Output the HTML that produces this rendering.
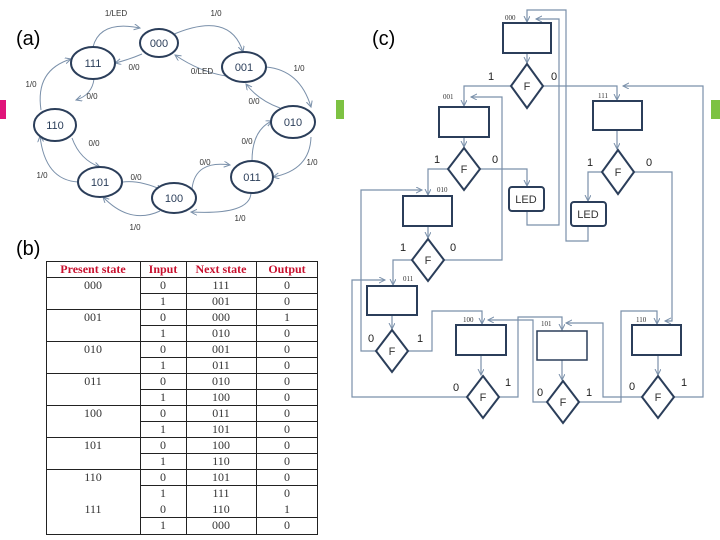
<!DOCTYPE html>
<html><head><style>
html,body{margin:0;padding:0;background:#fff;}
svg{display:block;font-family:"Liberation Sans",sans-serif;}
</style></head><body>
<svg width="720" height="540" viewBox="0 0 720 540" xmlns="http://www.w3.org/2000/svg">
<defs>
<marker id="a" markerWidth="8" markerHeight="8" refX="6" refY="3" orient="auto" markerUnits="userSpaceOnUse"><path d="M0,0 L6,3 L0,6" fill="none" stroke="#7a90aa" stroke-width="1"/></marker>
</defs>
<rect x="0" y="100" width="6" height="19" fill="#e0147a"/>
<rect x="336" y="100" width="8" height="19" fill="#7dc242"/>
<rect x="711" y="100" width="9" height="19" fill="#7dc242"/>
<text x="16" y="45" font-size="20">(a)</text>
<text x="16" y="255" font-size="20">(b)</text>
<text x="372" y="45" font-size="20">(c)</text>

<!-- state diagram -->
<g fill="none" stroke="#7a90aa" stroke-width="1" marker-end="url(#a)">
<path d="M93,47 Q100,20 140,28"/>
<path d="M172,35 Q230,10 243,52"/>
<path d="M142,54 Q128,60 115,63"/>
<path d="M226,76 Q200,72 175,55"/>
<path d="M266,67 Q300,70 311,107"/>
<path d="M280,108 Q258,100 246,84"/>
<path d="M311,137 Q310,170 273,177"/>
<path d="M252,161 Q252,130 272,121"/>
<path d="M192,189 Q195,160 230,165"/>
<path d="M251,193 Q250,215 191,212"/>
<path d="M160,211 Q130,225 103,197"/>
<path d="M123,182 Q140,180 162,190"/>
<path d="M78,182 Q45,180 40,136"/>
<path d="M72,138 Q80,160 100,167"/>
<path d="M41,110 Q35,70 71,59"/>
<path d="M94,79 Q92,95 76,100"/>
</g>
<g fill="#fff" stroke="#2b3e5a" stroke-width="2">
<ellipse cx="159" cy="43" rx="19" ry="14"/>
<ellipse cx="93" cy="63" rx="22" ry="16"/>
<ellipse cx="244" cy="67" rx="22" ry="15"/>
<ellipse cx="55" cy="125" rx="21" ry="16"/>
<ellipse cx="293" cy="122" rx="22" ry="16"/>
<ellipse cx="100" cy="182" rx="22" ry="15"/>
<ellipse cx="252" cy="177" rx="21" ry="16"/>
<ellipse cx="174" cy="198" rx="22" ry="15"/>
</g>
<g font-size="11" fill="#2b3e5a" text-anchor="middle">
<text x="159" y="47">000</text><text x="93" y="67">111</text><text x="244" y="71">001</text>
<text x="55" y="129">110</text><text x="293" y="126">010</text><text x="100" y="186">101</text>
<text x="252" y="181">011</text><text x="174" y="202">100</text>
</g>
<g font-size="8" fill="#333" text-anchor="middle">
<text x="116" y="16">1/LED</text><text x="216" y="16">1/0</text>
<text x="134" y="70">0/0</text><text x="202" y="74">0/LED</text>
<text x="299" y="71">1/0</text><text x="254" y="104">0/0</text>
<text x="312" y="165">1/0</text><text x="247" y="144">0/0</text>
<text x="205" y="165">0/0</text><text x="240" y="221">1/0</text>
<text x="135" y="230">1/0</text><text x="136" y="180">0/0</text>
<text x="42" y="178">1/0</text><text x="94" y="146">0/0</text>
<text x="31" y="87">1/0</text><text x="92" y="99">0/0</text>
</g>

<!-- table -->
<g stroke="#222" stroke-width="1" fill="none">
<rect x="46.5" y="261.5" width="271" height="273"/>
<line x1="46" y1="277.5" x2="318" y2="277.5"/>
<line x1="140.5" y1="261" x2="140.5" y2="535"/>
<line x1="186.5" y1="261" x2="186.5" y2="535"/>
<line x1="256.5" y1="261" x2="256.5" y2="535"/>
<line x1="140" y1="293.5" x2="318" y2="293.5"/>
<line x1="46" y1="309.5" x2="318" y2="309.5"/>
<line x1="140" y1="325.5" x2="318" y2="325.5"/>
<line x1="46" y1="341.5" x2="318" y2="341.5"/>
<line x1="140" y1="357.5" x2="318" y2="357.5"/>
<line x1="46" y1="373.5" x2="318" y2="373.5"/>
<line x1="140" y1="389.5" x2="318" y2="389.5"/>
<line x1="46" y1="405.5" x2="318" y2="405.5"/>
<line x1="140" y1="421.5" x2="318" y2="421.5"/>
<line x1="46" y1="437.5" x2="318" y2="437.5"/>
<line x1="140" y1="453.5" x2="318" y2="453.5"/>
<line x1="46" y1="469.5" x2="318" y2="469.5"/>
<line x1="140" y1="485.5" x2="318" y2="485.5"/>
<line x1="140" y1="517.5" x2="318" y2="517.5"/>
</g>
<g font-family="Liberation Serif,serif" font-weight="bold" font-size="12" fill="#c8102e" text-anchor="middle">
<text x="93" y="273">Present state</text><text x="163" y="273">Input</text><text x="221" y="273">Next state</text><text x="287" y="273">Output</text>
</g>
<g font-family="Liberation Serif,serif" font-size="12" fill="#333" text-anchor="middle">
<text x="93" y="289">000</text><text x="93" y="321">001</text><text x="93" y="353">010</text><text x="93" y="385">011</text>
<text x="93" y="417">100</text><text x="93" y="449">101</text><text x="93" y="481">110</text><text x="93" y="513">111</text>
<text x="163" y="289">0</text><text x="163" y="305">1</text><text x="163" y="321">0</text><text x="163" y="337">1</text>
<text x="163" y="353">0</text><text x="163" y="369">1</text><text x="163" y="385">0</text><text x="163" y="401">1</text>
<text x="163" y="417">0</text><text x="163" y="433">1</text><text x="163" y="449">0</text><text x="163" y="465">1</text>
<text x="163" y="481">0</text><text x="163" y="497">1</text><text x="163" y="513">0</text><text x="163" y="529">1</text>
<text x="221" y="289">111</text><text x="221" y="305">001</text><text x="221" y="321">000</text><text x="221" y="337">010</text>
<text x="221" y="353">001</text><text x="221" y="369">011</text><text x="221" y="385">010</text><text x="221" y="401">100</text>
<text x="221" y="417">011</text><text x="221" y="433">101</text><text x="221" y="449">100</text><text x="221" y="465">110</text>
<text x="221" y="481">101</text><text x="221" y="497">111</text><text x="221" y="513">110</text><text x="221" y="529">000</text>
<text x="287" y="289">0</text><text x="287" y="305">0</text><text x="287" y="321">1</text><text x="287" y="337">0</text>
<text x="287" y="353">0</text><text x="287" y="369">0</text><text x="287" y="385">0</text><text x="287" y="401">0</text>
<text x="287" y="417">0</text><text x="287" y="433">0</text><text x="287" y="449">0</text><text x="287" y="465">0</text>
<text x="287" y="481">0</text><text x="287" y="497">0</text><text x="287" y="513">1</text><text x="287" y="529">0</text>
</g>

<!-- flowchart -->
<g fill="none" stroke="#7a90aa" stroke-width="1.2">
<path d="M527,53 V63" marker-end="url(#a)"/>
<path d="M511,86 H464 V106" marker-end="url(#a)"/>
<path d="M543,86 H617 V100" marker-end="url(#a)"/>
<path d="M464,137 V147" marker-end="url(#a)"/>
<path d="M448,169 H428 V195" marker-end="url(#a)"/>
<path d="M480,169 H527 V186" marker-end="url(#a)"/>
<path d="M527,211 V225 H559 V19 H536" marker-end="url(#a)"/>
<path d="M588,226 V241 H566 V10 H527 V22" marker-end="url(#a)"/>
<path d="M617,130 V149" marker-end="url(#a)"/>
<path d="M602,172 H588 V201" marker-end="url(#a)"/>
<path d="M634,172 H672 V321 H665" marker-end="url(#a)"/>
<path d="M428,226 V238" marker-end="url(#a)"/>
<path d="M412,260 H393 V285" marker-end="url(#a)"/>
<path d="M444,260 H502 V97 H471" marker-end="url(#a)"/>
<path d="M376,351 H361 V190 H422" marker-end="url(#a)"/>
<path d="M392,315 V329" marker-end="url(#a)"/>
<path d="M408,351 H432 V311 H482 V324" marker-end="url(#a)"/>
<path d="M467,397 H352 V280 H385" marker-end="url(#a)"/>
<path d="M481,355 V375" marker-end="url(#a)"/>
<path d="M499,397 H518 V317 H562 V330" marker-end="url(#a)"/>
<path d="M562,360 V380" marker-end="url(#a)"/>
<path d="M547,402 H533 V320 H488" marker-end="url(#a)"/>
<path d="M579,402 H621 V311 H657 V324" marker-end="url(#a)"/>
<path d="M658,355 V375" marker-end="url(#a)"/>
<path d="M642,397 H603 V323 H566" marker-end="url(#a)"/>
<path d="M674,397 H703 V86 H623" marker-end="url(#a)"/>
</g>
<g fill="#fff" stroke="#2b3e5a" stroke-width="2">
<rect x="503" y="23" width="48" height="30"/>
<rect x="439" y="107" width="50" height="30"/>
<rect x="593" y="101" width="49" height="29"/>
<rect x="403" y="196" width="49" height="30"/>
<rect x="367" y="286" width="50" height="29"/>
<rect x="456" y="325" width="50" height="30"/>
<rect x="537" y="331" width="50" height="29" stroke-width="1.5"/>
<rect x="632" y="325" width="49" height="30"/>
<rect x="509" y="187" width="35" height="24" rx="3"/>
<rect x="571" y="202" width="35" height="24" rx="3"/>
<path d="M527,64 L543,86 L527,108 L511,86 Z"/>
<path d="M464,148 L480,169 L464,190 L448,169 Z"/>
<path d="M618,150 L634,172 L618,194 L602,172 Z"/>
<path d="M428,239 L444,260 L428,281 L412,260 Z"/>
<path d="M392,330 L408,351 L392,372 L376,351 Z"/>
<path d="M483,376 L499,397 L483,418 L467,397 Z"/>
<path d="M563,381 L579,402 L563,423 L547,402 Z"/>
<path d="M658,376 L674,397 L658,418 L642,397 Z"/>
</g>
<g font-size="11" fill="#333" text-anchor="middle">
<text x="527" y="90">F</text><text x="464" y="173">F</text><text x="618" y="176">F</text><text x="428" y="264">F</text>
<text x="392" y="355">F</text><text x="483" y="401">F</text><text x="563" y="406">F</text><text x="658" y="401">F</text>
<text x="526" y="203">LED</text><text x="588" y="218">LED</text>
</g>
<g font-size="11" fill="#222" text-anchor="middle">
<text x="491" y="80">1</text><text x="554" y="80">0</text>
<text x="437" y="163">1</text><text x="495" y="163">0</text>
<text x="590" y="166">1</text><text x="649" y="166">0</text>
<text x="403" y="251">1</text><text x="453" y="251">0</text>
<text x="371" y="342">0</text><text x="420" y="342">1</text>
<text x="456" y="391">0</text><text x="508" y="386">1</text>
<text x="540" y="396">0</text><text x="589" y="396">1</text>
<text x="632" y="390">0</text><text x="684" y="386">1</text>
</g>
<g font-family="Liberation Serif,serif" font-size="7" fill="#333">
<text x="505" y="20">000</text><text x="443" y="99">001</text><text x="598" y="98">111</text>
<text x="437" y="192">010</text><text x="403" y="281">011</text><text x="463" y="322">100</text>
<text x="541" y="326">101</text><text x="636" y="322">110</text>
</g>
</svg>
</body></html>
